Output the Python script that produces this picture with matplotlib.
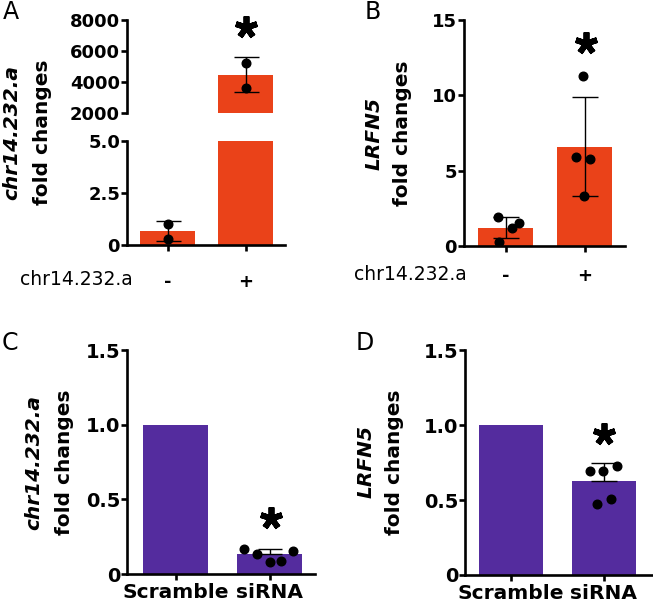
import matplotlib
matplotlib.use('Agg')
import matplotlib.pyplot as plt

W, H = 653, 605
orange = '#EA4219'
purple = '#542C9E'

# ---- data ----
groups_ab = ['-', '+']
chr_bar = [0.66, 4480]
chr_sd = [0.48, 1130]
chr_pts = [[1.0, 0.27], [5200, 3600]]
chr_jit = [[0.0, 0.0], [0.0, 0.0]]

lrfn_bar = [1.22, 6.6]
lrfn_sd = [0.70, 3.3]
lrfn_pts = [[1.93, 1.18, 1.5, 0.28], [11.25, 5.9, 5.8, 3.3]]
lrfn_jit = [[-0.095, 0.08, 0.17, -0.08], [-0.02, -0.11, 0.07, -0.01]]

groups_cd = ['Scramble', 'siRNA']
si_chr_bar = [1.0, 0.134]
si_chr_sd = 0.031
si_chr_pts = [0.165, 0.132, 0.078, 0.089, 0.154]
si_chr_jit = [-0.27, -0.13, 0.0, 0.12, 0.25]

si_lrfn_bar = [1.0, 0.627]
si_lrfn_sd = 0.12
si_lrfn_pts = [0.695, 0.695, 0.727, 0.473, 0.507]
si_lrfn_jit = [-0.146, -0.005, 0.146, -0.07, 0.08]

fig = plt.figure(figsize=(W / 100, H / 100), dpi=100)


def px_axes(x0, y0, x1, y1):
    # pixel box (top-left origin) -> axes
    return fig.add_axes([x0 / W, 1 - y1 / H, (x1 - x0) / W, (y1 - y0) / H])


def style(ax, bottom=True, fs=13):
    for s in ['top', 'right']:
        ax.spines[s].set_visible(False)
    ax.spines['left'].set_linewidth(1.9)
    ax.spines['bottom'].set_linewidth(1.9)
    if not bottom:
        ax.spines['bottom'].set_visible(False)
        ax.tick_params(axis='x', bottom=False, labelbottom=False)
    ax.tick_params(axis='y', length=4, width=1.9, labelsize=fs, pad=1)
    ax.tick_params(axis='x', length=4.5, width=1.9)
    for t in ax.get_yticklabels():
        t.set_fontweight('bold')


def draw_points(ax, pts, jit):
    for i in range(len(pts)):
        xs = [i + j for j in jit[i]]
        ax.plot(xs, pts[i], 'o', color='black', ms=6.2, zorder=4)


def star(ax, x, y):
    ax.plot([x], [y], marker=(5, 2, 0), color='black', ms=16, mew=4.2,
             clip_on=False, zorder=5)


# ---------- A ----------
axA1 = px_axes(127, 20, 285, 113)
axA2 = px_axes(127, 141, 285, 245)
for ax in (axA1, axA2):
    ax.bar([0, 1], chr_bar, width=0.70, color=orange, zorder=1)
    ax.errorbar([0, 1], chr_bar, yerr=chr_sd, fmt='none', ecolor='black',
                elinewidth=1.0, capsize=9, capthick=1.0, zorder=3)
    draw_points(ax, chr_pts, chr_jit)
    ax.set_xlim(-0.52, 1.506)
axA1.set_ylim(2000, 8000)
axA1.set_yticks([2000, 4000, 6000, 8000])
axA1.set_yticklabels(['2000', '4000', '6000', '8000'])
style(axA1, bottom=False)
axA2.set_ylim(0, 5)
axA2.set_yticks([0, 2.5, 5.0])
axA2.set_yticklabels(['0', '2.5', '5.0'])
axA2.set_xticks([0, 1])
axA2.set_xticklabels([])
style(axA2)
star(axA1, 1, 7550)

# ---------- B ----------
axB = px_axes(464, 20, 625, 246)
axB.bar([0, 1], lrfn_bar, width=0.70, color=orange, zorder=1)
axB.errorbar([0, 1], lrfn_bar, yerr=lrfn_sd, fmt='none', ecolor='black',
             elinewidth=1.0, capsize=9.5, capthick=1.0, zorder=3)
draw_points(axB, lrfn_pts, lrfn_jit)
axB.set_xlim(-0.525, 1.51)
axB.set_ylim(0, 15)
axB.set_yticks([0, 5, 10, 15])
axB.set_xticks([0, 1])
axB.set_xticklabels([])
style(axB)
star(axB, 1.02, 13.5)

for ax, off in ((axA2, 26.5), (axB, 21.5)):
    for i, g in enumerate(groups_ab):
        ax.annotate(g, xy=(i, 0), xycoords=ax.get_xaxis_transform(),
                    xytext=(0, -off), textcoords='offset points',
                    ha='center', va='center', fontsize=13, fontweight='bold')

fig.text(76 / W, 1 - 279 / H, 'chr14.232.a', fontsize=13.5, ha='center', va='center')
fig.text(410 / W, 1 - 275 / H, 'chr14.232.a', fontsize=13.5, ha='center', va='center')

# ---------- C ----------
axC = px_axes(127, 350, 315, 574)
axC.bar([0, 1], si_chr_bar, width=0.69, color=purple, zorder=1)
axC.errorbar([1], [si_chr_bar[1]], yerr=[[0], [si_chr_sd]], fmt='none',
             ecolor='black', elinewidth=1.0, capsize=8.5, capthick=1.0, zorder=3)
axC.plot([1 + j for j in si_chr_jit], si_chr_pts, 'o', color='black', ms=6.2, zorder=4)
axC.set_xlim(-0.516, 1.484)
axC.set_ylim(0, 1.5)
axC.set_yticks([0, 0.5, 1.0, 1.5])
axC.set_yticklabels(['0', '0.5', '1.0', '1.5'])
axC.set_xticks([0, 1])
axC.set_xticklabels(groups_cd, fontsize=14.5, fontweight='bold')
style(axC, fs=14)
axC.tick_params(axis='x', pad=2)
star(axC, 1.02, 0.375)

# ---------- D ----------
axD = px_axes(465, 350, 652, 575)
axD.bar([0, 1], si_lrfn_bar, width=0.69, color=purple, zorder=1)
axD.errorbar([1], [si_lrfn_bar[1]], yerr=[[0], [si_lrfn_sd]], fmt='none',
             ecolor='black', elinewidth=1.0, capsize=9.5, capthick=1.0, zorder=3)
axD.plot([1 + j for j in si_lrfn_jit], si_lrfn_pts, 'o', color='black', ms=6.2, zorder=4)
axD.set_xlim(-0.497, 1.52)
axD.set_ylim(0, 1.5)
axD.set_yticks([0, 0.5, 1.0, 1.5])
axD.set_yticklabels(['0', '0.5', '1.0', '1.5'])
axD.set_xticks([0, 1])
axD.set_xticklabels(groups_cd, fontsize=14.5, fontweight='bold')
style(axD, fs=14)
axD.tick_params(axis='x', pad=2)
star(axD, 1.0, 0.94)

# ---------- y labels ----------
ylab = [
    (12, 43, 132, 'chr14.232.a'),
    (374, 402, 133, 'LRFN5'),
    (34, 64, 462, 'chr14.232.a'),
    (366, 394, 462, 'LRFN5'),
]
for xi, xf, yc, gene in ylab:
    fig.text(xi / W, 1 - yc / H, gene, rotation=90, fontsize=14.5, fontweight='bold',
             style='italic', ha='center', va='center')
    fig.text(xf / W, 1 - yc / H, 'fold changes', rotation=90, fontsize=14.5,
             fontweight='bold', ha='center', va='center')

# ---------- panel letters ----------
for lx, ly, letter in [(11, 12, 'A'), (373, 12, 'B'), (10, 343, 'C'), (365, 343, 'D')]:
    fig.text(lx / W, 1 - ly / H, letter, fontsize=17, ha='center', va='center')

fig.savefig('out.png', dpi=100)
